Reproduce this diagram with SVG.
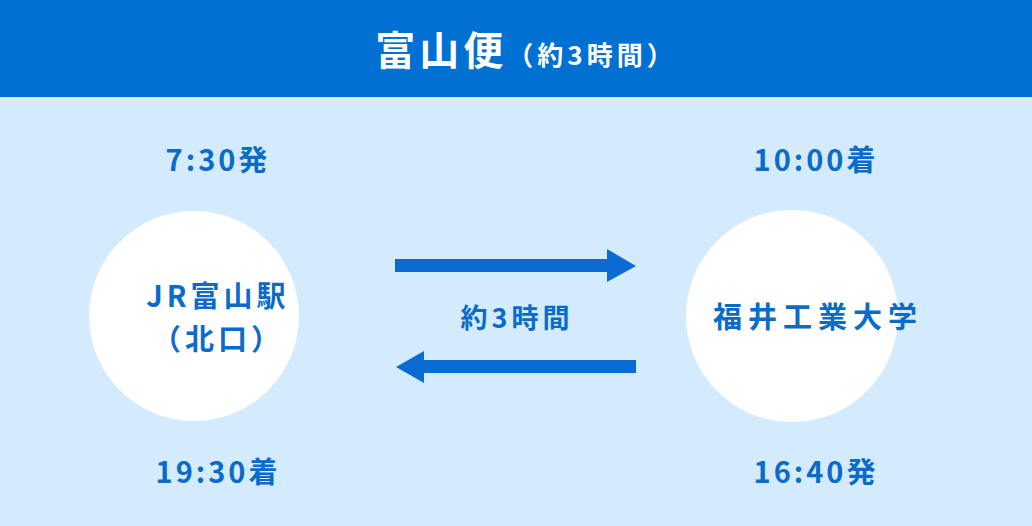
<svg xmlns="http://www.w3.org/2000/svg" width="1032" height="526" viewBox="0 0 1032 526">
<style>
.t{font-family:"Noto Sans CJK JP","Noto Sans",sans-serif;font-weight:bold;fill:#0A6CC8;text-anchor:middle}
.w{fill:#fff}
</style>
<rect width="1032" height="526" fill="#D4EBFD"/>
<g id="header">
<rect width="1032" height="97" fill="#0070D2"/>
<text x="526" y="65" font-family="Noto Sans CJK JP,sans-serif" font-weight="bold" fill="#fff" text-anchor="middle" letter-spacing="4"><tspan font-size="40">富山便</tspan><tspan font-size="26">（約3時間）</tspan></text>
</g>
<g id="toyama">
<circle cx="194" cy="316" r="105" class="w"/>
<text class="t" x="218" y="307" font-size="29" letter-spacing="4">JR富山駅</text>
<text class="t" x="218" y="350" font-size="29" letter-spacing="4">（北口）</text>
</g>
<g id="fukui">
<circle cx="792" cy="316" r="106" class="w"/>
<text class="t" x="818" y="328" font-size="29" letter-spacing="6">福井工業大学</text>
</g>
<g id="times">
<text class="t" x="218" y="171" font-size="29" letter-spacing="3">7:30発</text>
<text class="t" x="816" y="171" font-size="29" letter-spacing="3">10:00着</text>
<text class="t" x="218" y="483" font-size="29" letter-spacing="3">19:30着</text>
<text class="t" x="816" y="483" font-size="29" letter-spacing="3">16:40発</text>
<text class="t" x="517" y="328" font-size="27" letter-spacing="4">約3時間</text>
</g>
<g id="connectors" fill="#0A6CD2">
<path d="M395 259H607V249L636 266L607 282V272H395Z"/>
<path d="M636 360H424V351L396 367L424 383V373H636Z"/>
</g>
</svg>
